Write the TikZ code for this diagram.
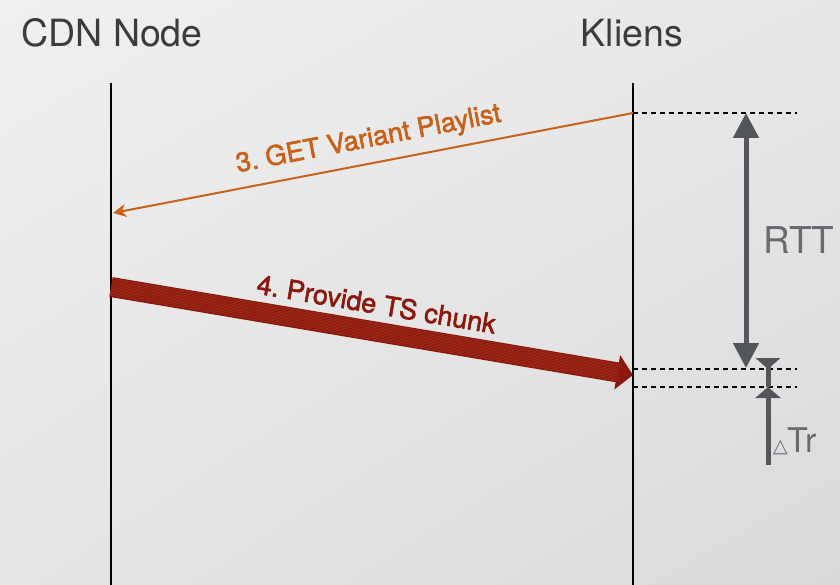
\documentclass[tikz,border=0pt]{standalone}
\usepackage{fontspec}
\setmainfont{TeX Gyre Heros}
\newfontfamily\symfont{DejaVu Sans}
\usetikzlibrary{arrows.meta,calc,shadings}

% medium-weight text: fill and stroke the glyph outlines
\newcommand\medtext[1]{\special{pdf:literal 2 Tr 0.55 w}#1\special{pdf:literal 0 Tr}}

\definecolor{bgA}{HTML}{F0F0F0}
\definecolor{bgB}{HTML}{DADADA}
\definecolor{reqcol}{HTML}{C8621A}
\definecolor{datacol}{HTML}{8A180C}
\definecolor{stripecol}{HTML}{B0402E}
\definecolor{meascol}{HTML}{53575C}
\definecolor{meastext}{HTML}{686C70}
\definecolor{titlecol}{HTML}{3C3C3C}

\tikzset{
  lifeline/.style={line width=1.8pt, black},
  title/.style={font=\fontsize{37.5}{42}\selectfont, text=titlecol, inner sep=0pt},
  guide/.style={line width=1.4pt, dash pattern=on 5pt off 4pt, black},
  request/.style={line width=2pt, reqcol, -{Stealth[length=13pt,width=13pt,inset=4pt]}},
  msglabel/.style={inner sep=0pt, sloped, font=\frenchspacing\fontsize{27}{30}\selectfont},
  measure/.style={line width=5pt, meascol},
}

\begin{document}
\begin{tikzpicture}[x=1pt, y=-1pt]
  % canvas with a soft grey gradient
  \shade[upper left=bgA, upper right=bgA!60!bgB, lower left=bgA!50!bgB, lower right=bgB]
    (0,0) rectangle (840,585);
  \useasboundingbox (0,0) rectangle (840,585);

  % lifelines
  \coordinate (cdnTop) at (111,83);
  \coordinate (cdnBot) at (111,585);
  \coordinate (cliTop) at (633,83);
  \coordinate (cliBot) at (633,585);
  \node[title] (cdnTitle) at (112,33) {CDN Node};
  \node[title] (cliTitle) at (632,33) {Kliens};
  \draw[lifeline] (cdnTop) -- (cdnBot);
  \draw[lifeline] (cliTop) -- (cliBot);

  % message end points
  \coordinate (reqStart) at (633,113);
  \coordinate (reqEnd)   at (113,213);
  \coordinate (dataStart) at (111,287);
  \coordinate (dataEnd)   at (633,375);

  % guide lines at the client side
  \coordinate (g1a) at (633,113);  \coordinate (g1b) at (797,113);
  \coordinate (g2a) at (633,369);  \coordinate (g2b) at (797,369);
  \coordinate (g3a) at (633,387);  \coordinate (g3b) at (797,387);
  \draw[guide] (g1a) -- (g1b);
  \draw[guide] (g2a) -- (g2b);
  \draw[guide] (g3a) -- (g3b);

  % 3. request
  \draw[request] (reqStart) -- (reqEnd)
    node[msglabel, midway, above=9.5pt, text=reqcol] (reqLabel) {\medtext{3. GET Variant Playlist}};

  % 4. thick striped data transfer
  \draw[line width=20pt, datacol, -{Triangle[length=16pt,width=34pt]}] (dataStart) -- (dataEnd);
  \foreach \o in {-8.5,-7,...,8.5}{
    \draw[stripecol, line width=0.5pt, opacity=0.6]
      ($(dataStart)+(-0.1683*\o,0.9868*\o)$) -- ($(dataEnd)+(-0.1683*\o,0.9868*\o)+(-14,-2.4)$);
  }
  \path (dataStart) -- (dataEnd)
    node[msglabel, midway, above=17pt, text=datacol] (dataLabel) {\medtext{4. Provide TS chunk}};

  % RTT measurement
  \coordinate (rttTop) at (746,113);
  \coordinate (rttBot) at (746,368);
  \draw[measure, {Triangle[length=25pt,width=25pt]}-{Triangle[length=25pt,width=25pt]}] (rttTop) -- (rttBot);
  \node[font=\fontsize{37}{40}\selectfont, text=meastext, inner sep=0pt] (rttLabel) at (799,240) {RTT};

  % transfer-time measurement
  \coordinate (trTop) at (768,369);
  \coordinate (trLow) at (768,387);
  \coordinate (trEnd) at (768,465);
  \fill[meascol] (755.5,358) -- (780.5,358) -- (trTop) -- cycle;
  \draw[measure] (768,360) -- (trLow);
  \draw[measure, -{Triangle[length=11pt,width=25pt]}] (trEnd) -- (trLow);
  \node[anchor=base west, inner sep=0pt, text=meastext] (trLabel) at (773,452)
    {{\symfont\fontsize{19}{20}\selectfont △}\fontsize{34}{38}\selectfont Tr};
\end{tikzpicture}
\end{document}
